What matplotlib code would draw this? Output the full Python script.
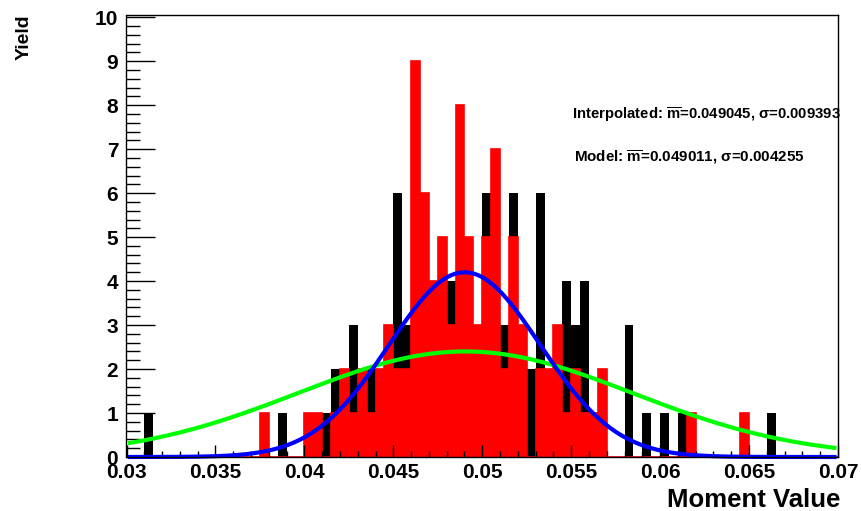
import numpy as np
import matplotlib
matplotlib.use("Agg")
import matplotlib.pyplot as plt
from matplotlib.ticker import MultipleLocator, FixedLocator

plt.rcParams['font.family'] = ['Liberation Sans', 'DejaVu Sans']
plt.rcParams['font.weight'] = 'bold'
plt.rcParams['mathtext.fontset'] = 'custom'
plt.rcParams['mathtext.rm'] = 'Liberation Sans:bold'
plt.rcParams['mathtext.bf'] = 'Liberation Sans:bold'
plt.rcParams['mathtext.it'] = 'Liberation Sans:bold'

# ---- data ----
x_min, x_max, n_bins = 0.03, 0.07, 80
red_counts = [
    0, 0, 0, 0, 0, 0, 0, 0, 0, 0,
    0, 0, 0, 0, 0, 1, 0, 0, 0, 0,
    1, 1, 0, 1, 2, 1, 2, 1, 2, 3,
    2, 2, 9, 6, 4, 5, 3, 8, 5, 3,
    5, 7, 2, 5, 3, 0, 2, 2, 3, 1,
    2, 1, 1, 2, 0, 0, 0, 0, 0, 0,
    0, 0, 0, 1, 0, 0, 0, 0, 0, 1,
    0, 0, 0, 0, 0, 0, 0, 0, 0, 0]
black_counts = [
    0, 0, 1, 0, 0, 0, 0, 0, 0, 0,
    0, 0, 0, 0, 0, 0, 0, 1, 0, 0,
    0, 0, 1, 2, 0, 3, 0, 2, 0, 0,
    6, 3, 0, 0, 0, 0, 4, 0, 0, 0,
    6, 0, 3, 6, 0, 2, 6, 0, 0, 4,
    3, 4, 0, 0, 0, 0, 3, 0, 1, 0,
    1, 0, 1, 0, 0, 0, 0, 0, 0, 0,
    0, 0, 1, 0, 0, 0, 0, 0, 0, 0]

interp_amp, interp_mean, interp_sigma = 2.4, 0.049045, 0.009393
model_amp, model_mean, model_sigma = 4.2, 0.049011, 0.004255

x_ticks = [0.03, 0.035, 0.04, 0.045, 0.05, 0.055, 0.06, 0.065, 0.07]
x_tick_labels = ["0.03", "0.035", "0.04", "0.045", "0.05", "0.055", "0.06", "0.065", "0.07"]
y_ticks = list(range(0, 11))

label_interp = r"Interpolated: $\overline{\mathrm{m}}$=0.049045, $\sigma$=0.009393"
label_model = r"Model: $\overline{\mathrm{m}}$=0.049011, $\sigma$=0.004255"

# ---- figure ----
W, H = 861, 511
fig = plt.figure(figsize=(W / 100, H / 100), dpi=100)
L, R, B, T = 126.5, 838, 457, 15
ax = fig.add_axes([L / W, 1 - B / H, (R - L) / W, (B - T) / H])

edges = np.linspace(x_min, x_max, n_bins + 1)
ax.stairs(black_counts, edges, fill=True, color='black', lw=0)
ax.stairs(red_counts, edges, fill=True, color='#ff0000', lw=0)
ax.stairs(red_counts, edges, color='#ff0000', lw=1.2)

xs = np.linspace(x_min + 0.0002, x_max - 0.0002, 400)
g_interp = interp_amp * np.exp(-0.5 * ((xs - interp_mean) / interp_sigma) ** 2)
g_model = model_amp * np.exp(-0.5 * ((xs - model_mean) / model_sigma) ** 2)
ax.plot(xs, g_interp, color='#00ff00', lw=3.0, clip_on=False, zorder=5)
ax.plot(xs, g_model, color='#0000ff', lw=3.0, clip_on=False, zorder=6)

ax.set_xlim(x_min, x_max)
ax.set_ylim(0, 10.05)

ax.xaxis.set_major_locator(FixedLocator(x_ticks))
ax.set_xticklabels(x_tick_labels)
ax.xaxis.set_minor_locator(MultipleLocator(0.001))
ax.yaxis.set_major_locator(FixedLocator(y_ticks))
ax.yaxis.set_minor_locator(MultipleLocator(0.2))

ax.tick_params(axis='x', which='major', direction='in', length=9, width=1,
               labelsize=15, pad=4, top=False)
ax.tick_params(axis='x', which='minor', direction='in', length=4.5, width=1, top=False)
ax.tick_params(axis='y', which='major', direction='in', length=21, width=1,
               labelsize=15, pad=6, right=False)
ax.tick_params(axis='y', which='minor', direction='in', length=10, width=1, right=False)
for lab in ax.get_xticklabels() + ax.get_yticklabels():
    lab.set_fontweight('bold')

for s in ax.spines.values():
    s.set_linewidth(1.0)
    s.set_zorder(10)

fig.text(840 / W, 1 - 507 / H, "Moment Value", ha='right', va='baseline',
         fontsize=18.5, fontweight='bold')
fig.text(24 / W, 1 - 14 / H, "Yield", ha='center', va='top', rotation=90,
         fontsize=14, fontweight='bold')

fig.text(572 / W, 1 - 119 / H, label_interp, ha='left', va='baseline',
         fontsize=10.7, fontweight='bold')
fig.text(574 / W, 1 - 162 / H, label_model, ha='left', va='baseline',
         fontsize=10.9, fontweight='bold')

fig.savefig("out.png", dpi=100)
